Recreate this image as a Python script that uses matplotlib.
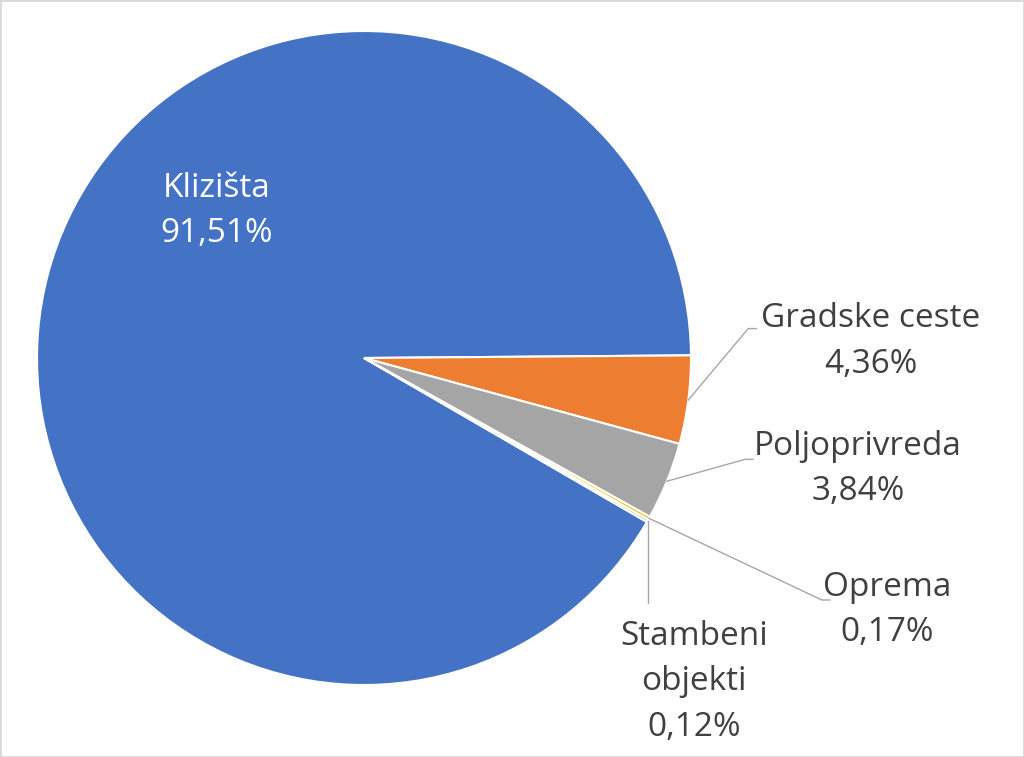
import matplotlib.pyplot as plt
import numpy as np
from matplotlib.patches import Rectangle

# Data
categories = ['Klizišta', 'Gradske ceste', 'Poljoprivreda', 'Oprema', 'Stambeni\nobjekti']
shares = [91.51, 4.36, 3.84, 0.17, 0.12]
colors = ['#4472C4', '#ED7D31', '#A5A5A5', '#FFC000', '#5B9BD5']

# Label positions (x, y) in radius units, and leader elbow points
label_pos = [(-0.45, 0.45), (1.55, 0.05), (1.51, -0.34), (1.60, -0.77), (1.01, -0.99)]
elbow_pos = [None, (1.175, 0.09), (1.165, -0.31), (1.40, -0.74), (0.87, -0.75)]

fig = plt.figure(figsize=(10.24, 7.57), dpi=100)
ax = fig.add_axes([0, 0, 1, 1])

wedges, _ = ax.pie(shares, colors=colors, startangle=-30.1, counterclock=False,
                   radius=1, center=(0, 0),
                   wedgeprops=dict(edgecolor='white', linewidth=1.5))

ax.set_xlim(-364 / 327, (1024 - 364) / 327)
ax.set_ylim(-399 / 327, 358 / 327)
ax.set_aspect('auto')
ax.axis('off')

font = 'Open Sans'
fsize = 24
for i, (w, name, val) in enumerate(zip(wedges, categories, shares)):
    text = name + '\n' + f'{val:.2f}'.replace('.', ',') + '%'
    lx, ly = label_pos[i]
    if i == 0:
        ax.text(lx, ly, text, ha='center', va='center', color='white',
                fontsize=fsize, family=font, linespacing=1.5)
        continue
    ax.text(lx, ly, text, ha='center', va='center', color='#404040',
            fontsize=fsize, family=font, linespacing=1.5)
    mid = np.deg2rad((w.theta1 + w.theta2) / 2)
    px, py = np.cos(mid), np.sin(mid)
    ex, ey = elbow_pos[i]
    if i == 4:
        ax.plot([px, px], [py, ey], color='#A6A6A6', lw=1)
    else:
        ax.plot([px, ex, ex + 0.025], [py, ey, ey], color='#A6A6A6', lw=1)

fig.patches.append(Rectangle((0, 0), 1, 1, transform=fig.transFigure,
                             fill=False, edgecolor='#D9D9D9', lw=2))

fig.savefig('out.png', dpi=100)
